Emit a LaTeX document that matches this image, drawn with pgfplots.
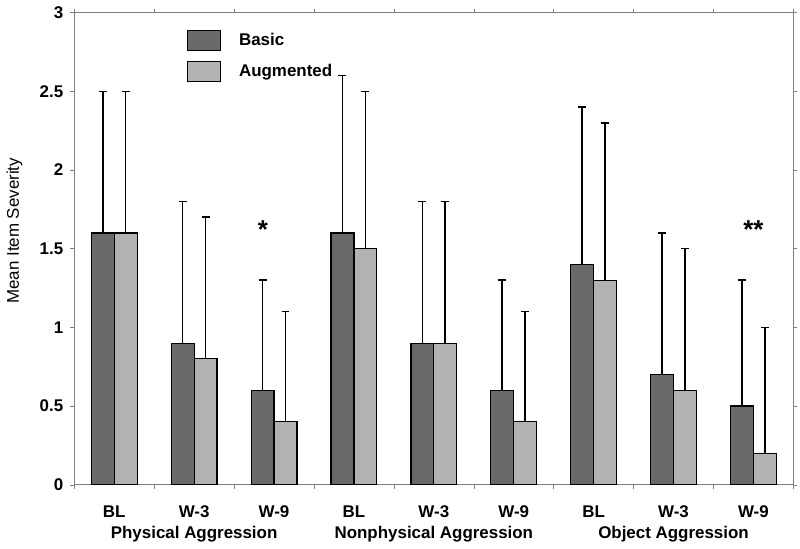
\documentclass[border=0pt]{standalone}
\usepackage{fontspec}
\setmainfont{Liberation Sans}
\usepackage{pgfplots}
\usepackage{pgfplotstable}
\pgfplotsset{compat=1.18}
\definecolor{basic}{RGB}{105,105,105}
\definecolor{aug}{RGB}{178,178,178}
\definecolor{frame}{RGB}{128,128,128}
\pgfplotstableread{
x basic berr aug aerr
0 1.6 0.9 1.6 0.9
1 0.9 0.9 0.8 0.9
2 0.6 0.7 0.4 0.7
3 1.6 1.0 1.5 1.0
4 0.9 0.9 0.9 0.9
5 0.6 0.7 0.4 0.7
6 1.4 1.0 1.3 1.0
7 0.7 0.9 0.6 0.9
8 0.5 0.8 0.2 0.8
}\data
\begin{document}
\begin{tikzpicture}[font=\fontsize{8.5}{10.2}\selectfont]
\begin{axis}[
  scale only axis, width=361pt, height=237pt,
  xmin=-0.5, xmax=8.5, ymin=0, ymax=3,
  ybar=0pt, bar width=11.5pt,
  clip=false,
  axis line style={draw=frame},
  tick style={draw=frame},
  tick align=outside,
  major tick length=2pt,
  xtick={-0.5,0.5,...,8.5},
  xticklabels={},
  extra x ticks={0,1,2,3,4,5,6,7,8},
  extra x tick labels={BL,{W-3\\Physical Aggression},W-9,BL,{W-3\\Nonphysical Aggression},W-9,BL,{W-3\\Object Aggression},W-9},
  extra x tick style={tick style={draw=none}, xticklabel style={align=center, anchor=north, yshift=-5pt, font=\fontsize{8.5}{10.5}\selectfont\bfseries}},
  ytick={0,0.5,...,3},
  yticklabel style={font=\fontsize{8.5}{10.2}\selectfont\bfseries},
  /pgf/number format/assume math mode=true,
  ylabel={Mean Item Severity},
  ylabel style={at={(axis description cs:-0.0831,0.538)}, anchor=center},
  legend style={at={(axis description cs:0.148,0.975)}, anchor=north west, draw=none, fill=none, row sep=4pt, font=\fontsize{8.5}{10.2}\selectfont\bfseries, legend cell align=left},
  legend image code/.code={\draw[#1, draw=black, line width=0.6pt] (0pt,-5pt) rectangle (16.5pt,5pt); \path (23.5pt,0pt);},
  error bars/error bar style={black, line width=0.8pt},
  error bars/error mark options={black, line width=0.8pt, mark size=2pt, rotate=90},
]
\addplot[fill=basic, draw=black, line width=0.6pt,
  error bars/.cd, y dir=plus, y explicit]
  table[x=x, y=basic, y error=berr] {\data};
\addlegendentry{Basic}
\addplot[fill=aug, draw=black, line width=0.6pt,
  error bars/.cd, y dir=plus, y explicit]
  table[x=x, y=aug, y error=aerr] {\data};
\addlegendentry{Augmented}
\node[font=\fontsize{13}{13}\selectfont\bfseries] at (axis cs:1.86,1.62) {*};
\node[font=\fontsize{13}{13}\selectfont\bfseries] at (axis cs:8,1.62) {**};
\path (rel axis cs:-0.0997,-0.1287) rectangle (rel axis cs:1.0083,1.023);
\end{axis}
\end{tikzpicture}
\end{document}
